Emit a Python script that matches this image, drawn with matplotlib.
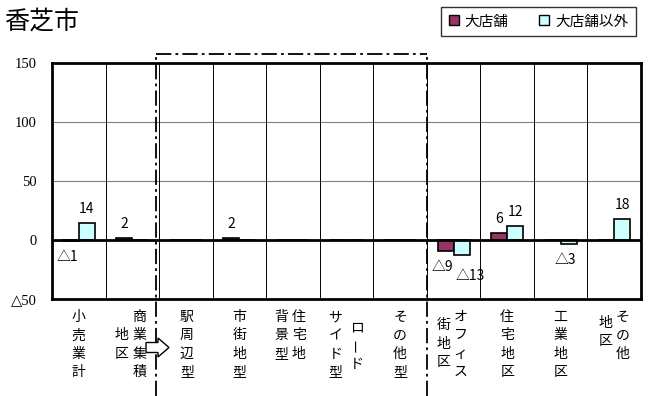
import numpy as np
import matplotlib.pyplot as plt
from matplotlib.lines import Line2D
from matplotlib.patches import Patch, FancyArrow
from matplotlib.transforms import blended_transform_factory

plt.rcParams['font.family'] = ['Noto Sans CJK JP', 'DejaVu Sans']
plt.rcParams['lines.scale_dashes'] = False

title = '香芝市'
series_names = ['大店舗', '大店舗以外']
categories = ['小売業計', '商業集積地区', '駅周辺型', '市街地型', '住宅地背景型',
              'ロードサイド型', 'その他型', 'オフィス街地区', '住宅地区', '工業地区', 'その他地区']
big_store = [-1, 2, 0, 2, 0, 0, 0, -9, 6, 0, 0]
other_store = [14, 0, 0, 0, 0, 0, 0, -13, 12, -3, 18]
y_ticks = [-50, 0, 50, 100, 150]

# vertical label columns: (text, x offset px, starting row)
label_cols = [
    [('小売業計', 0, 0)],
    [('商業集積', 7, 0), ('地区', -11, 1)],
    [('駅周辺型', 1, 0)],
    [('市街地型', 0, 0)],
    [('住宅地', 6, 0), ('背景型', -12, 0)],
    [('ロード', 10, 0.55), ('サイド型', -11, 0)],
    [('その他型', 0, 0)],
    [('オフィス', 7, 0), ('街地区', -10, 0.45)],
    [('住宅地区', 0, 0)],
    [('工業地区', 0, 0)],
    [('その他', 8, 0), ('地区', -9, 0.33)],
]

c_big = '#993366'
c_other = '#ccffff'

fig = plt.figure(figsize=(6.55, 3.96), dpi=100)
ax = fig.add_axes([52 / 655, 1 - 299 / 396, 589 / 655, 236 / 396])

x = np.arange(len(categories))
w = 0.3
ax.bar(x - w / 2, big_store, w, color=c_big, edgecolor='black', linewidth=1.2, zorder=3)
ax.bar(x + w / 2, other_store, w, color=c_other, edgecolor='black', linewidth=1.2, zorder=3)

ax.set_xlim(-0.5, len(categories) - 0.5)
ax.set_ylim(-50, 150)
for yv in [50, 100]:
    ax.axhline(yv, color='#808080', lw=0.8, zorder=1)
for i in range(len(categories) - 1):
    ax.axvline(i + 0.5, color='black', lw=0.7, zorder=1)
ax.axhline(0, color='black', lw=2, zorder=4)
for s in ax.spines.values():
    s.set_linewidth(2)

ax.set_xticks([])
ax.set_yticks(y_ticks)
ax.set_yticklabels([('△%d' % -v) if v < 0 else str(v) for v in y_ticks],
                   family=['Liberation Serif', 'DejaVu Sans'], fontsize=10.5)
ax.tick_params(axis='y', length=0, pad=11)


def fmt(v):
    return ('△%d' % -v) if v < 0 else str(v)


# value labels
for i in range(len(categories)):
    for j, (vals, dx) in enumerate([(big_store, -w / 2), (other_store, w / 2)]):
        v = vals[i]
        if v == 0:
            continue
        if v > 0:
            off = (0, 14)
        else:
            off = (-3, -16)
            if j == 1 and big_store[i] < 0:
                off = (9, -21)
        ax.annotate(fmt(v), (x[i] + dx, v), textcoords='offset pixels', xytext=off,
                    ha='center', va='center', fontsize=10, zorder=5)

# category labels, stacked vertically
trans = blended_transform_factory(ax.transData, ax.transAxes)
for i, cols in enumerate(label_cols):
    for text, dx, row0 in cols:
        for k, ch in enumerate(text):
            ax.annotate(ch, (x[i], 0), xycoords=trans, textcoords='offset pixels',
                        xytext=(dx, -(18 + (row0 + k) * 18.3)), ha='center', va='center',
                        fontsize=10, rotation=90 if ch == 'ー' else 0,
                        annotation_clip=False)

# dash-dot frame around the commercial-zone types
ft = blended_transform_factory(ax.transData, fig.transFigure)
ytop = 1 - 54 / 396
xl, xr = 1.45, 6.5
dash = dict(color='black', lw=1.3, dashes=(11, 3, 2, 3))
fig.add_artist(Line2D([xl, xl], [0, ytop], transform=ft, **dash))
fig.add_artist(Line2D([xr, xr], [0, ytop], transform=ft, **dash))
fig.add_artist(Line2D([xl, xr], [ytop, ytop], transform=ft, **dash))

arrow = FancyArrow(1.46, 3.96 - 3.475, 0.12, 0, width=0.10, head_width=0.19,
                   head_length=0.11, length_includes_head=False,
                   transform=fig.dpi_scale_trans, facecolor='white',
                   edgecolor='black', lw=1, zorder=10)
fig.add_artist(arrow)

fig.text(4 / 655, 1 - 22 / 396, title, fontsize=18, va='center', ha='left')

handles = [Patch(facecolor=c_big, edgecolor='black'), Patch(facecolor=c_other, edgecolor='black')]
leg = fig.legend(handles, series_names, ncol=2, loc='lower left',
                 bbox_to_anchor=(434 / 655, 1 - 43 / 396, 209 / 655, 38 / 396),
                 mode='expand', fontsize=10.5, handlelength=0.7, handleheight=0.7,
                 handletextpad=0.4, borderpad=0.5, fancybox=False, frameon=True)
leg.get_frame().set_edgecolor('black')
leg.get_frame().set_linewidth(1)

fig.savefig('out.png', dpi=100)
